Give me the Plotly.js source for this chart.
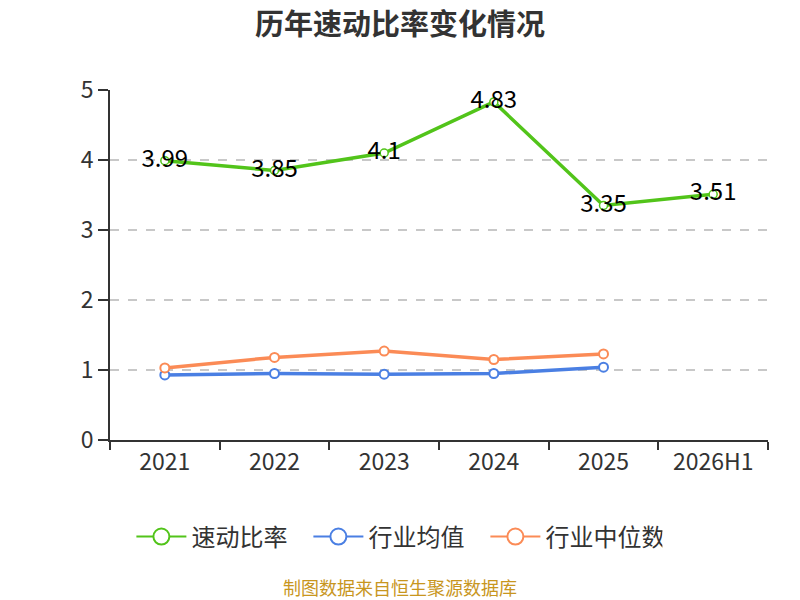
<!DOCTYPE html>
<html>
<head>
<meta charset="utf-8">
<script src="https://cdn.plot.ly/plotly-3.0.1.min.js"></script>
<style>
  body { margin: 0; background: #fff; }
  #chart { width: 800px; height: 600px; }
</style>
</head>
<body>
<div id="chart"></div>
<script>
var years = ['2021', '2022', '2023', '2024', '2025', '2026H1']
var quickRatio = [3.99, 3.85, 4.1, 4.83, 3.35, 3.51]
var industryAvg = [0.93, 0.95, 0.94, 0.95, 1.04]
var industryMedian = [1.03, 1.18, 1.27, 1.15, 1.23]
var yTicks = [0, 1, 2, 3, 4, 5]

var seriesNames = ['速动比率', '行业均值', '行业中位数']
var seriesColors = ['#52c41a', '#4a7fe3', '#fb8b56']

var FONT = '"Noto Sans CJK SC", "Noto Sans", sans-serif'

var traces = [{
    x: years,
    y: quickRatio,
    name: seriesNames[0],
    showlegend: false,
    mode: 'lines+markers+text',
    text: quickRatio.map(String),
    textposition: 'middle center',
    textfont: { size: 24, color: '#000', family: FONT },
    line: { color: seriesColors[0], width: 3.5 },
    marker: { size: 8, color: '#fff', line: { color: seriesColors[0], width: 1.5 } },
    cliponaxis: false
}, {
    x: years.slice(0, industryAvg.length),
    y: industryAvg,
    name: seriesNames[1],
    showlegend: false,
    mode: 'lines+markers',
    line: { color: seriesColors[1], width: 3.5 },
    marker: { size: 9, color: '#fff', line: { color: seriesColors[1], width: 2 } }
}, {
    x: years.slice(0, industryMedian.length),
    y: industryMedian,
    name: seriesNames[2],
    showlegend: false,
    mode: 'lines+markers',
    line: { color: seriesColors[2], width: 3.5 },
    marker: { size: 9, color: '#fff', line: { color: seriesColors[2], width: 2 } }
}]

// legend-only entries with the large open circle symbol
seriesNames.forEach(function(name, i) {
    traces.push({
        x: [null],
        y: [null],
        name: name,
        mode: 'lines+markers',
        line: { color: seriesColors[i], width: 2 },
        marker: { size: 18, color: '#fff', line: { color: seriesColors[i], width: 2 } }
    })
})

var layout = {
    width: 800,
    height: 600,
    margin: { l: 110, r: 32, t: 90, b: 160 },
    paper_bgcolor: '#fff',
    plot_bgcolor: '#fff',
    font: { family: FONT, color: '#333' },
    title: {
        text: '<b>历年速动比率变化情况</b>',
        font: { size: 29, color: '#333', family: FONT },
        x: 0.5, xanchor: 'center',
        y: 0.958, yanchor: 'middle'
    },
    xaxis: {
        type: 'category',
        range: [-0.5, 5.5],
        showline: true,
        linecolor: '#333',
        linewidth: 2,
        ticks: 'outside',
        tickson: 'boundaries',
        ticklen: 8,
        tickcolor: '#333',
        tickwidth: 2,
        showgrid: false,
        tickfont: { size: 23, color: '#333' },
        fixedrange: true
    },
    yaxis: {
        range: [0, 5],
        tickvals: yTicks,
        showline: true,
        linecolor: '#333',
        linewidth: 2,
        ticks: 'outside',
        ticklen: 10,
        tickcolor: '#333',
        tickwidth: 2,
        showgrid: true,
        gridcolor: '#c8c8c8',
        griddash: 'dash',
        gridwidth: 1.5,
        zeroline: false,
        tickfont: { size: 23, color: '#333' },
        fixedrange: true
    },
    showlegend: true,
    legend: {
        orientation: 'h',
        x: 0.436, xanchor: 'center',
        y: -0.277, yanchor: 'middle',
        font: { size: 24, color: '#333' },
        itemsizing: 'trace',
        itemwidth: 50,
        entrywidth: 112,
        entrywidthmode: 'pixels'
    },
    annotations: [{
        text: '制图数据来自恒生聚源数据库',
        xref: 'paper', yref: 'paper',
        x: 0.4407, xanchor: 'center',
        y: -0.42, yanchor: 'middle',
        showarrow: false,
        font: { size: 18, color: '#c8961e', family: FONT }
    }]
}

Plotly.newPlot('chart', traces, layout, { displayModeBar: false, staticPlot: true })
</script>
</body>
</html>
